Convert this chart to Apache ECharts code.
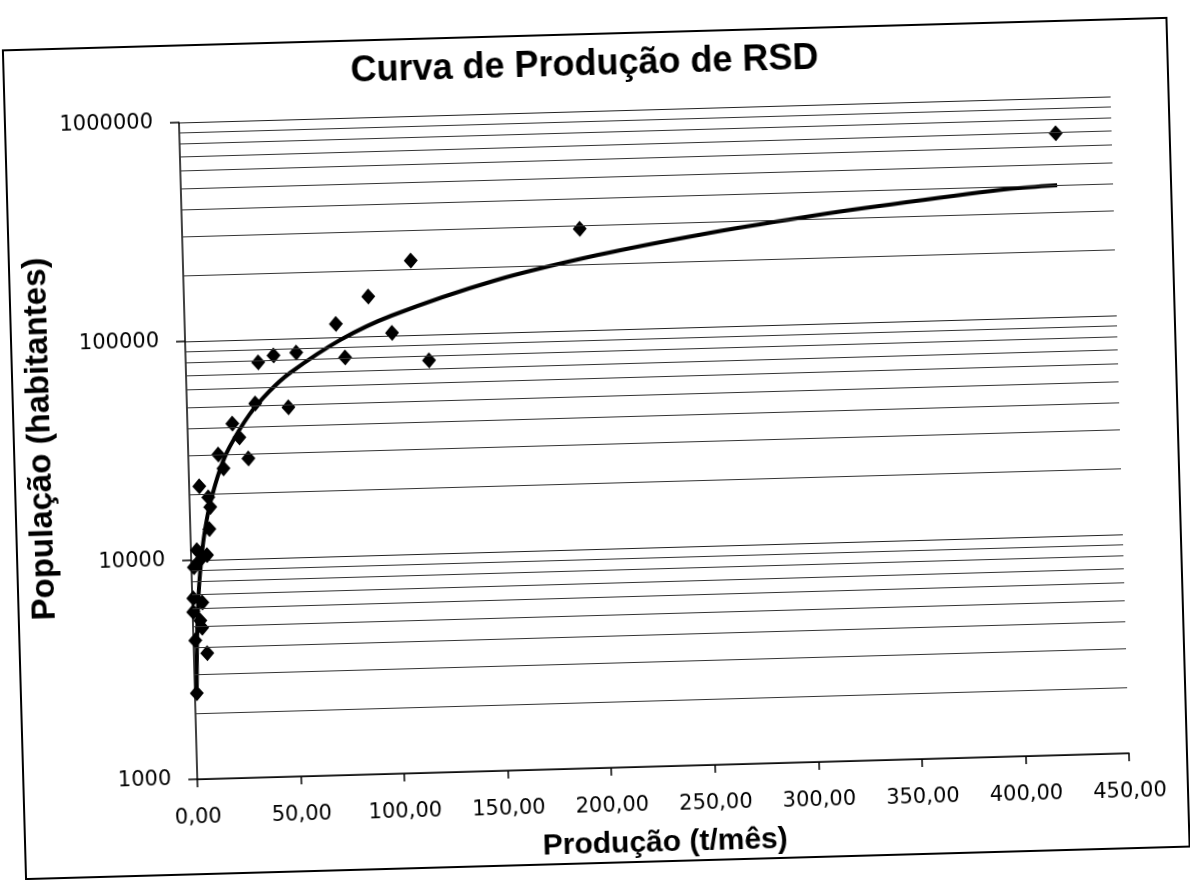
<!DOCTYPE html>
<html>
<head>
<meta charset="utf-8">
<script src="https://cdn.jsdelivr.net/npm/echarts@6/dist/echarts.min.js"></script>
<style>
html,body{margin:0;padding:0;background:#fff;overflow:hidden}
#c{width:1190px;height:880px;transform:rotate(-1.6deg);transform-origin:50% 50%;}
</style>
</head>
<body>
<div id="c"></div>
<script>
// Produção (t/mês) and População (habitantes)
const producao = [423, 192, 110, 89, 73, 100, 53.5, 42.5, 35, 77, 117.5, 33, 49, 21.7, 24.9, 14.5, 29, 16.8, 4.9, 9.1, 9.9, 9.2, 2.9, 7.7, 4.3, 1.2, 0.5, 4.8, 0.3, 3.6, 4.4, 0.9, 6.5, 0.9];
const populacao = [690000, 291000, 219000, 152000, 115000, 103000, 86000, 84000, 78500, 80600, 76200, 51000, 48500, 41600, 35900, 30200, 28700, 26000, 21700, 19300, 17400, 13800, 11100, 10500, 10000, 9300, 6700, 6400, 5800, 5300, 4900, 4300, 3750, 2470];

// Trend curve
const trendX = [0.9, 1.5, 2, 3, 4, 6, 8, 10, 15, 20, 30, 40, 50, 75, 100, 150, 200, 250, 300, 350, 400, 423];
const trendY = [2470, 3780, 4800, 6720, 8530, 11950, 15170, 18250, 25560, 32450, 45400, 57700, 69400, 97100, 123400, 172800, 219300, 264000, 307200, 349100, 390100, 400000];

// Axis ticks and minor grid lines
const xTicks = [0, 50, 100, 150, 200, 250, 300, 350, 400, 450];
const yTicks = [1000, 10000, 100000, 1000000];
const yMinorGrid = [2000, 3000, 4000, 5000, 6000, 7000, 8000, 9000,
  20000, 30000, 40000, 50000, 60000, 70000, 80000, 90000,
  200000, 300000, 400000, 500000, 600000, 700000, 800000, 900000];

const chart = echarts.init(document.getElementById('c'), null, {renderer: 'canvas'});

const points = producao.map((x, i) => [x, populacao[i]]);
const trend = trendX.map((x, i) => [x, trendY[i]]);

const option = {
  backgroundColor: '#fff',
  animation: false,
  title: {
    text: 'Curva de Produção de RSD',
    left: 'center',
    top: 42,
    textStyle: {fontFamily: 'Liberation Sans, Arial, sans-serif', fontWeight: 'bold', fontSize: 36, color: '#000'}
  },
  graphic: [{
    type: 'rect', silent: true, z: -1,
    shape: {x: 14, y: 34, width: 1164, height: 829},
    style: {fill: 'none', stroke: '#000', lineWidth: 2}
  }],
  grid: {left: 188, top: 111, width: 932, height: 657, containLabel: false, outerBoundsMode: 'none'},
  xAxis: {
    type: 'value',
    min: xTicks[0],
    max: xTicks[xTicks.length - 1],
    interval: xTicks[1] - xTicks[0],
    name: 'Produção (t/mês)',
    nameLocation: 'middle',
    nameGap: 62,
    nameTextStyle: {fontFamily: 'Liberation Sans, Arial, sans-serif', fontWeight: 'bold', fontSize: 30, color: '#000'},
    axisLine: {show: true, lineStyle: {color: '#000', width: 1.5}},
    axisTick: {show: true, inside: false, length: 8, lineStyle: {color: '#000', width: 1.5}},
    axisLabel: {
      margin: 28,
      fontFamily: 'DejaVu Sans, Verdana, sans-serif', fontSize: 21, color: '#000',
      formatter: v => v.toFixed(2).replace('.', ',')
    },
    splitLine: {show: false}
  },
  yAxis: {
    type: 'log',
    logBase: 10,
    min: yTicks[0],
    max: yTicks[yTicks.length - 1],
    name: 'População (habitantes)',
    nameLocation: 'middle',
    nameGap: 118,
    nameTextStyle: {fontFamily: 'Liberation Sans, Arial, sans-serif', fontWeight: 'bold', fontSize: 33, color: '#000', padding: [0, 0, 0, 32]},
    axisLine: {show: true, lineStyle: {color: '#000', width: 1.5}},
    axisTick: {show: true, inside: false, length: 9, lineStyle: {color: '#000', width: 1.5}},
    axisLabel: {
      margin: 26,
      fontFamily: 'DejaVu Sans, Verdana, sans-serif', fontSize: 21, color: '#000',
      formatter: v => String(Math.round(v))
    },
    splitLine: {show: true, lineStyle: {color: '#222', width: 1.2}}
  },
  series: [
    {
      name: 'grade',
      type: 'line',
      data: [],
      z: 1,
      silent: true,
      markLine: {
        silent: true,
        symbol: ['none', 'none'],
        label: {show: false},
        lineStyle: {color: '#333', type: 'solid', width: 1},
        emphasis: {disabled: true},
        data: yMinorGrid.map(v => ({yAxis: v}))
      }
    },
    {
      name: 'Tendência',
      type: 'line',
      data: trend,
      z: 2,
      smooth: 0.3,
      showSymbol: false,
      symbol: 'none',
      lineStyle: {color: '#000', width: 4},
      silent: true
    },
    {
      name: 'Municípios',
      type: 'scatter',
      data: points,
      z: 3,
      symbol: 'diamond',
      symbolSize: [14, 16],
      itemStyle: {color: '#000', opacity: 1},
      silent: true
    }
  ]
};
chart.setOption(option);
</script>
</body>
</html>
